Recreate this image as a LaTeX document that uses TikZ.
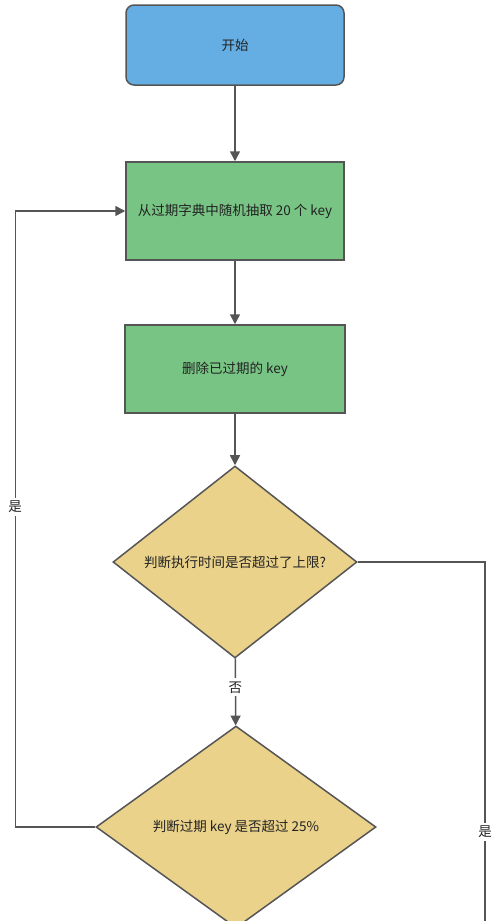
\documentclass[tikz,border=0pt]{standalone}
\usepackage{fontspec}
\setmainfont{Noto Sans CJK SC}
\usepackage{tikz}
\usetikzlibrary{arrows.meta,shapes.geometric}
\definecolor{startblue}{HTML}{65AEE3}
\definecolor{stepgreen}{HTML}{78C484}
\definecolor{testyellow}{HTML}{EAD28B}
\definecolor{linegray}{HTML}{555555}
\definecolor{textgray}{HTML}{222222}

\begin{document}
\begin{tikzpicture}[x=1pt,y=-1pt,
font=\fontsize{13.5}{16}\selectfont,
every node/.style={text=textgray},
startbox/.style={draw=linegray,line width=1.5pt,fill=startblue,rounded corners=8pt,minimum width=218pt,minimum height=80pt,inner sep=0pt},
stepbox/.style={draw=linegray,line width=1.5pt,fill=stepgreen,minimum width=218pt,inner sep=0pt},
testbox/.style={draw=linegray,line width=1.5pt,fill=testyellow,shape=diamond,aspect=1.27,inner sep=0pt},
flow/.style={draw=linegray,line width=1.5pt,-{Triangle[length=10pt,width=10pt]}},
plain/.style={draw=linegray,line width=1.5pt},
answer/.style={fill=white,inner sep=3pt}]
\useasboundingbox (0,0) rectangle (500,921);

%steps of the loop
\node[startbox] (start) at (235,45) {开始};
\node[stepbox,minimum height=98pt] (pick) at (235,211) {从过期字典中随机抽取 20 个 key};
\node[stepbox,minimum width=220pt,minimum height=88pt] (delete) at (235,369) {删除已过期的 key};
\node[testbox,minimum width=244pt,minimum height=192pt] (time) at (235,562) {判断执行时间是否超过了上限?};
\node[testbox,minimum width=280pt,minimum height=202pt] (ratio) at (236,827) {判断过期 key 是否超过 25\%};

%free ends outside the page
\coordinate (exit) at (485,940);

%connectors
\draw[flow] (start) -- (pick);
\draw[flow] (pick) -- (delete);
\draw[flow] (delete) -- (time);
\draw[flow] (time) -- node[answer,pos=0.43] {否} (ratio);
\draw[flow] (ratio.west) -- ++(-80,0) coordinate (turn) |- node[answer,pos=0.26] {是} (pick.west);
\draw[plain] (time.east) -| (exit) node[answer,pos=0.857] {是};
\end{tikzpicture}
\end{document}
